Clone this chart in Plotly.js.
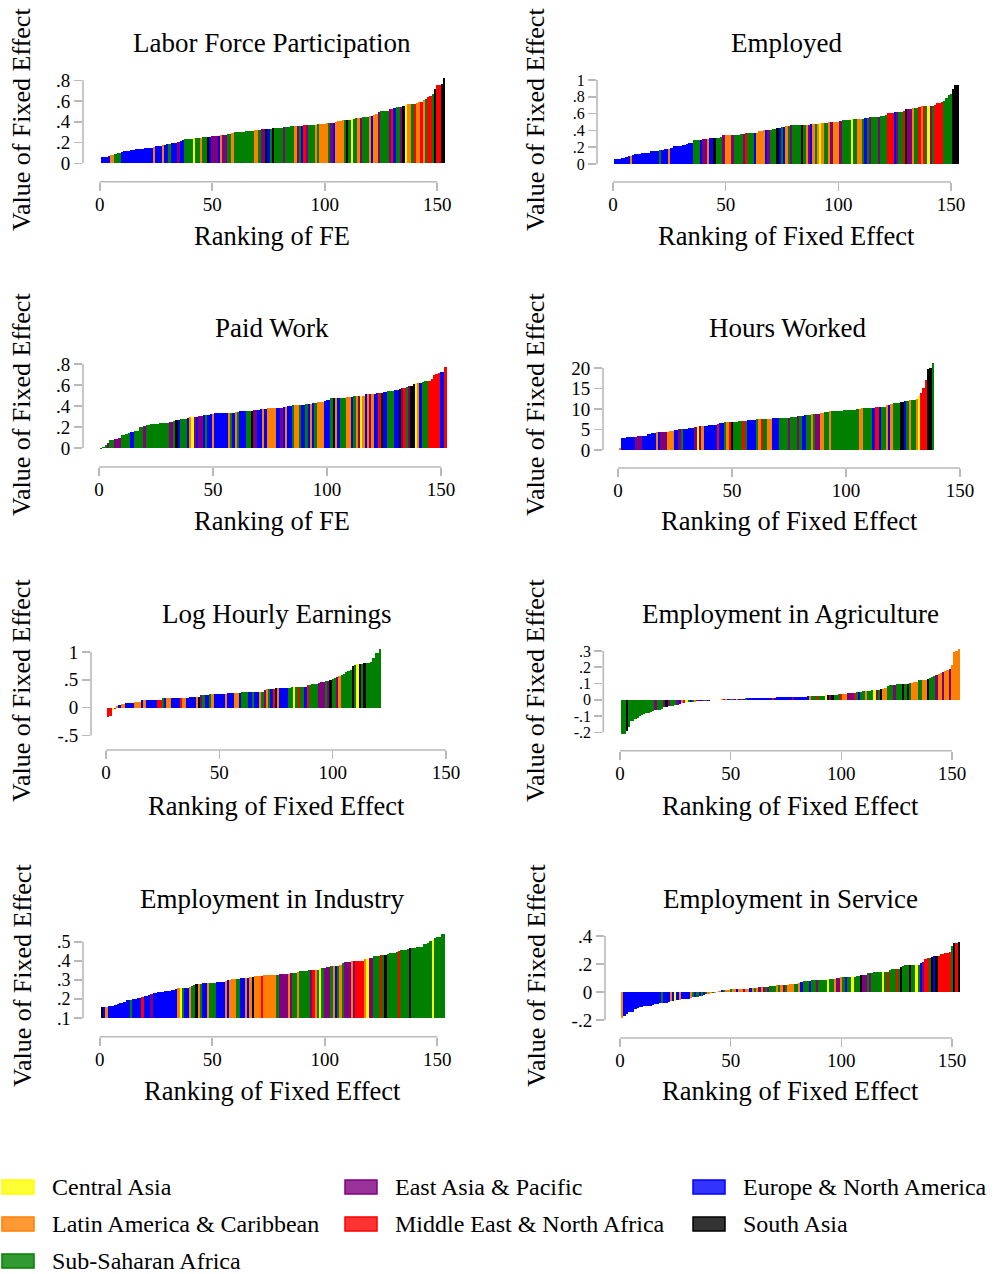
<!DOCTYPE html>
<html><head><meta charset="utf-8">
<script src="https://cdn.plot.ly/plotly-3.0.1.min.js"></script>
<style>html,body{margin:0;padding:0;background:#fff}#chart{width:995px;height:1274px}</style>
</head><body><div id="chart"></div>
<script>
// ---------------- regions ----------------
const regionCodes  = ["C","E","U","L","M","S","A"];
const regionNames  = ["Central Asia","East Asia & Pacific","Europe & North America","Latin America & Caribbean","Middle East & North Africa","South Asia","Sub-Saharan Africa"];
const regionColors = ["#ffff00","#800080","#0000ff","#ff8000","#ff0000","#000000","#008000"];

// ---------------- tick labels ----------------
const xTickVals = [0,50,100,150];
const xTickText = ["0","50","100","150"];
const lfpTickVals = [0,.2,.4,.6,.8];        const lfpTickText = ["0",".2",".4",".6",".8"];
const empTickVals = [0,.2,.4,.6,.8,1];      const empTickText = ["0",".2",".4",".6",".8","1"];
const paidTickVals = [0,.2,.4,.6,.8];       const paidTickText = ["0",".2",".4",".6",".8"];
const hoursTickVals = [0,5,10,15,20];       const hoursTickText = ["0","5","10","15","20"];
const logTickVals = [-.5,0,.5,1];           const logTickText = ["-.5","0",".5","1"];
const agrTickVals = [-.2,-.1,0,.1,.2,.3];   const agrTickText = ["-.2","-.1","0",".1",".2",".3"];
const indTickVals = [.1,.2,.3,.4,.5];       const indTickText = [".1",".2",".3",".4",".5"];
const svcTickVals = [-.2,0,.2,.4];          const svcTickText = ["-.2","0",".2",".4"];

// ---------------- Labor Force Participation ----------------
const lfpRegion = [
"U","U","U","U","L","L","A","A","A","U",
"U","U","U","U","U","U","U","U","U","U",
"U","U","U","L","U","U","U","L","U","U",
"A","U","U","U","E","U","U","A","A","A",
"A","C","A","A","L","A","A","S","U","E",
"E","E","U","L","E","E","A","A","L","A",
"A","A","A","A","A","A","A","A","L","L",
"A","E","E","S","U","A","S","A","A","A",
"A","E","A","A","A","A","L","E","A","U",
"M","E","A","A","A","L","A","L","L","L",
"L","A","E","U","L","L","L","L","A","S",
"A","C","A","A","L","E","A","A","A","L",
"U","L","L","E","A","A","A","A","E","M",
"U","A","A","E","S","C","L","L","A","M",
"L","L","M","L","A","M","M","A","S","M",
"M","S","S"];
const lfpValue = [
.06,.06,.065,.07,.08,.08,.09,.095,.10,.11,
.115,.12,.12,.125,.13,.135,.14,.14,.14,.145,
.15,.15,.15,.16,.165,.17,.17,.18,.18,.185,
.19,.195,.2,.2,.21,.215,.22,.23,.23,.235,
.235,.24,.24,.24,.245,.25,.25,.255,.255,.26,
.26,.26,.265,.27,.27,.275,.28,.28,.29,.30,
.30,.30,.305,.305,.31,.31,.315,.315,.32,.32,
.32,.33,.33,.33,.33,.335,.34,.34,.34,.345,
.345,.35,.35,.35,.355,.355,.355,.36,.36,.36,
.365,.365,.37,.37,.37,.37,.375,.38,.38,.38,
.385,.385,.39,.39,.40,.41,.41,.415,.42,.42,
.42,.425,.43,.435,.435,.44,.45,.45,.45,.455,
.46,.47,.48,.49,.5,.5,.5,.5,.52,.525,
.53,.54,.54,.54,.55,.56,.57,.57,.57,.575,
.58,.59,.59,.61,.62,.64,.65,.67,.72,.75,
.75,.76,.82];

// ---------------- Employed ----------------
const empRegion = [
"U","U","U","U","U","U","U","L","U","U",
"U","U","U","U","U","U","U","U","U","U",
"A","U","U","U","L","U","U","U","U","U",
"U","U","U","U","U","A","A","A","U","E",
"E","L","U","U","S","A","A","A","E","L",
"L","L","E","A","A","A","A","E","M","A",
"A","A","U","L","L","L","L","U","E","A",
"A","A","S","U","A","U","L","A","E","A",
"A","A","A","S","A","L","E","U","L","A",
"L","C","L","A","A","L","E","L","L","L",
"E","A","A","A","A","C","A","A","L","L",
"A","U","A","E","A","A","A","E","A","A",
"A","M","M","M","U","E","A","A","M","S",
"E","E","L","A","A","M","L","M","A","C",
"E","A","M","M","M","M","A","A","A","A",
"S","S","S"];
const empValue = [
.055,.055,.065,.07,.072,.085,.09,.10,.11,.115,
.115,.12,.13,.13,.13,.13,.15,.155,.155,.155,
.165,.17,.175,.175,.18,.19,.21,.21,.215,.215,
.225,.23,.24,.245,.25,.285,.285,.285,.29,.295,
.3,.3,.305,.305,.315,.315,.315,.32,.345,.345,
.345,.345,.35,.35,.35,.35,.355,.36,.365,.37,
.37,.37,.375,.375,.39,.39,.40,.405,.405,.41,
.42,.42,.43,.43,.435,.445,.45,.455,.465,.465,
.465,.465,.465,.465,.465,.47,.47,.475,.475,.475,
.48,.485,.485,.49,.49,.5,.5,.505,.505,.505,
.51,.52,.52,.52,.52,.53,.535,.535,.535,.535,
.535,.545,.55,.56,.56,.56,.56,.565,.57,.57,
.585,.61,.61,.61,.62,.62,.625,.625,.63,.655,
.66,.66,.665,.665,.67,.68,.69,.69,.69,.69,
.69,.69,.7,.725,.725,.74,.75,.78,.82,.835,
.89,.94,.94];

// ---------------- Paid Work ----------------
const paidRegion = [
"A","A","A","E","A","A","E","E","E","A",
"A","A","A","U","U","A","A","A","A","E",
"A","A","A","A","A","A","A","A","A","A",
"E","E","A","S","U","A","A","A","U","L",
"C","E","U","E","E","U","A","U","U","L",
"U","U","U","U","U","U","L","A","U","L",
"A","U","U","U","A","A","S","E","E","U",
"U","L","U","L","L","L","L","U","U","E",
"U","L","U","U","A","L","L","A","U","U",
"A","U","L","U","A","L","L","L","U","U",
"U","A","S","L","U","A","A","A","L","L",
"U","A","L","E","C","L","U","L","E","L",
"U","U","M","S","U","U","A","A","A","U",
"U","S","E","M","A","E","S","S","C","L",
"U","A","A","A","M","M","M","M","M","U",
"U","M"];
const paidValue = [
-.008,.01,.03,.045,.08,.08,.09,.09,.1,.12,
.125,.135,.14,.15,.15,.16,.16,.2,.2,.21,
.215,.215,.23,.23,.23,.23,.24,.24,.24,.24,
.245,.245,.255,.265,.265,.275,.275,.275,.285,.295,
.295,.295,.3,.305,.305,.31,.315,.315,.32,.32,
.33,.333,.333,.333,.333,.333,.333,.333,.333,.34,
.345,.35,.352,.352,.352,.352,.352,.362,.362,.365,
.37,.37,.37,.38,.38,.38,.38,.38,.38,.385,
.39,.39,.4,.4,.41,.41,.41,.41,.41,.41,
.42,.42,.42,.425,.425,.44,.44,.44,.445,.455,
.46,.475,.475,.475,.475,.475,.475,.475,.485,.485,
.485,.495,.495,.495,.495,.5,.51,.515,.515,.515,
.515,.525,.525,.525,.535,.535,.545,.545,.545,.55,
.555,.56,.57,.57,.58,.59,.59,.61,.615,.62,
.62,.625,.64,.64,.64,.657,.695,.705,.715,.727,
.727,.77];

// ---------------- Hours Worked ----------------
const hoursRegion = [
"L","U","U","U","U","U","U","E","E","E",
"U","U","U","U","U","U","L","U","E","E",
"E","L","L","L","U","U","E","A","U","U",
"U","U","U","E","C","E","L","U","U","U",
"U","U","U","M","U","U","A","L","M","S",
"A","A","A","A","M","A","U","U","U","U",
"A","L","M","A","A","L","L","U","U","U",
"A","A","A","A","E","A","A","A","E","A",
"U","U","A","A","L","A","E","E","L","L",
"A","A","L","A","A","A","A","A","A","A",
"A","A","A","A","A","L","L","A","A","A",
"A","U","M","M","U","A","A","L","U","L",
"A","A","A","S","S","U","A","L","A","A",
"L","C","M","M","M","S","S","A"];
const hoursValue = [
.4,2.9,2.9,3.1,3.2,3.2,3.2,3.2,3.4,3.4,
3.4,3.4,3.8,4.0,4.1,4.1,4.3,4.4,4.4,4.4,
4.4,4.4,4.6,4.6,4.9,4.9,5.1,5.1,5.1,5.1,
5.4,5.4,5.4,5.6,5.9,5.9,5.9,5.9,5.9,6.1,
6.1,6.1,6.1,6.3,6.6,6.6,6.8,6.8,6.8,6.8,
6.8,6.8,7.1,7.1,7.1,7.1,7.3,7.3,7.3,7.3,
7.6,7.6,7.6,7.6,7.6,7.6,7.6,7.8,7.8,7.8,
7.8,7.8,7.8,7.8,7.8,8.05,8.05,8.05,8.3,8.3,
8.3,8.5,8.5,8.5,8.8,8.8,8.8,8.8,9.0,9.0,
9.3,9.3,9.5,9.5,9.5,9.5,9.5,9.5,9.75,9.75,
9.75,9.75,9.75,9.75,10,10,10.2,10.2,10.2,10.2,
10.2,10.2,10.5,10.5,10.5,10.5,10.5,11,11,11.2,
11.5,11.5,11.5,11.7,11.7,11.95,11.95,12.2,12.2,12.2,
12.4,13.1,13.9,15.1,17.1,19.8,20,21.2];

// ---------------- Log Hourly Earnings ----------------
const logRegion = [
"M","M","C","M","L","U","L","L","U","U",
"U","U","L","L","L","U","L","U","U","U",
"U","U","M","M","A","U","L","L","U","U",
"U","U","M","L","L","U","U","U","U","L",
"S","E","A","U","U","A","L","U","U","U",
"U","U","L","U","U","U","L","L","U","A",
"A","A","U","U","A","U","U","L","A","E",
"L","A","U","M","S","L","U","U","U","U",
"A","A","C","A","M","A","A","U","M","A",
"A","A","A","E","E","E","A","E","S","A",
"A","E","L","A","A","A","A","A","S","A",
"C","S","A","S","A","A","A","A","A","A",
"A"];
const logValue = [
-.16,-.15,-.04,-.02,.03,.055,.07,.07,.09,.09,
.09,.09,.10,.11,.11,.13,.13,.13,.145,.145,
.145,.145,.145,.145,.165,.165,.165,.165,.165,.165,
.165,.18,.18,.18,.18,.18,.2,.2,.2,.2,
.2,.22,.22,.22,.22,.24,.24,.24,.24,.24,
.24,.24,.24,.255,.255,.255,.255,.255,.255,.275,
.275,.275,.275,.275,.29,.29,.29,.29,.29,.31,
.33,.33,.33,.33,.345,.345,.345,.345,.345,.345,
.345,.365,.365,.38,.38,.38,.38,.38,.4,.4,
.42,.42,.42,.44,.455,.455,.475,.475,.49,.51,
.53,.545,.565,.58,.61,.635,.655,.675,.75,.77,
.78,.785,.785,.8,.8,.8,.82,.895,.985,.985,
1.06];

// ---------------- Employment in Agriculture ----------------
const agrRegion = [
"A","A","S","A","A","A","A","A","A","A",
"A","A","A","A","A","E","A","A","A","E",
"S","E","A","A","A","E","U","L","M","C",
"A","U","A","L","E","U","U","M","A","U",
"A","U","U","U","U","L","M","L","U","A",
"M","U","L","U","M","U","A","U","U","U",
"U","U","U","U","U","U","U","U","M","U",
"U","U","U","U","U","U","U","E","U","U",
"U","U","U","U","U","L","A","A","M","A",
"A","A","C","S","E","S","A","A","A","M",
"L","L","E","E","E","M","A","U","A","A",
"L","A","A","A","C","E","A","S","L","L",
"A","A","A","E","A","A","A","S","A","S",
"A","L","L","L","A","A","L","L","S","A",
"A","A","E","L","L","E","L","L","E","L",
"L","L","L"];
const agrValue = [
-.21,-.21,-.19,-.167,-.13,-.128,-.12,-.115,-.1,-.095,
-.088,-.083,-.08,-.075,-.07,-.065,-.062,-.06,-.058,-.045,
-.044,-.04,-.038,-.036,-.034,-.03,-.026,-.02,-.018,-.016,
-.015,-.014,-.012,-.011,-.01,-.009,-.008,-.007,-.006,-.006,
-.004,-.003,-.002,-.001,0,.002,.003,.004,.004,.005,
.005,.006,.006,.007,.007,.007,.008,.008,.008,.009,
.009,.01,.01,.01,.011,.012,.012,.013,.014,.014,
.015,.015,.016,.016,.017,.017,.017,.018,.018,.019,
.019,.02,.02,.02,.021,.021,.022,.022,.024,.025,
.026,.026,.027,.03,.03,.03,.031,.032,.033,.033,
.035,.037,.039,.041,.042,.043,.047,.048,.049,.051,
.052,.055,.057,.061,.061,.061,.062,.067,.068,.07,
.082,.088,.088,.088,.095,.1,.1,.1,.1,.1,
.102,.106,.112,.112,.122,.122,.122,.124,.126,.135,
.139,.145,.151,.159,.165,.171,.178,.184,.19,.214,
.294,.3,.312];

// ---------------- Employment in Industry ----------------
const indRegion = [
"S","U","L","U","U","U","U","U","U","U",
"U","U","U","A","U","U","U","U","M","U",
"U","U","E","U","U","U","U","U","U","U",
"U","U","U","U","L","C","A","U","U","L",
"A","A","S","L","A","U","U","L","A","A",
"A","U","U","U","U","L","U","L","L","L",
"A","A","U","U","L","U","L","S","L","L",
"L","M","L","L","L","L","L","L","A","E",
"E","E","E","L","E","A","A","L","A","A",
"A","A","A","E","M","L","A","C","A","E",
"E","E","A","L","U","A","L","A","E","E",
"E","L","E","M","M","M","M","L","C","E",
"E","A","A","A","M","A","S","A","A","A",
"A","A","M","A","A","A","A","S","A","A",
"A","A","A","A","A","A","A","C","A","A",
"A","A","A"];
const indValue = [
.159,.159,.159,.162,.164,.164,.172,.174,.18,.182,
.185,.195,.196,.196,.2,.2,.205,.206,.211,.215,
.217,.222,.228,.23,.234,.236,.237,.238,.24,.241,
.245,.246,.25,.252,.257,.257,.257,.257,.257,.262,
.27,.272,.279,.279,.279,.284,.284,.284,.284,.284,
.284,.29,.29,.29,.29,.295,.3,.3,.305,.305,
.305,.305,.31,.31,.31,.31,.314,.317,.323,.323,
.323,.323,.328,.328,.328,.328,.328,.328,.328,.333,
.333,.333,.333,.333,.337,.338,.338,.342,.347,.347,
.347,.347,.352,.352,.352,.352,.352,.357,.363,.363,
.368,.368,.373,.373,.373,.373,.378,.389,.394,.394,
.394,.4,.4,.4,.4,.4,.4,.41,.411,.415,
.415,.425,.425,.425,.43,.43,.43,.436,.44,.44,
.44,.446,.451,.456,.456,.458,.462,.467,.467,.467,
.472,.472,.472,.488,.488,.493,.503,.509,.519,.524,
.524,.54,.54];

// ---------------- Employment in Service ----------------
const svcRegion = [
"L","U","U","U","U","U","U","U","U","U",
"U","U","U","U","U","U","U","U","A","U",
"U","U","L","U","C","U","L","U","U","U",
"U","L","A","U","A","U","A","U","A","L",
"L","A","L","A","L","U","A","L","L","A",
"L","L","U","L","L","E","L","L","U","L",
"A","L","E","L","E","A","E","A","A","A",
"L","A","L","E","A","L","L","L","A","A",
"L","U","A","A","A","U","A","A","E","A",
"A","A","A","C","A","A","L","E","E","L",
"A","U","A","A","C","A","A","A","S","E",
"E","A","E","A","A","A","A","A","C","A",
"M","A","A","A","M","A","S","A","A","A",
"S","A","A","C","A","U","E","M","M","A",
"S","U","S","M","M","M","M","M","M","A",
"S","M","S"];
const svcValue = [
-.186,-.17,-.155,-.145,-.143,-.14,-.124,-.112,-.105,-.105,
-.1,-.1,-.1,-.1,-.095,-.086,-.086,-.081,-.081,-.081,
-.081,-.071,-.067,-.067,-.067,-.06,-.06,-.052,-.052,-.048,
-.048,-.043,-.038,-.036,-.034,-.029,-.029,-.019,-.014,-.012,
-.007,-.007,-.005,-.001,.007,.012,.012,.012,.012,.018,
.024,.024,.024,.024,.024,.024,.024,.024,.031,.031,
.031,.031,.038,.038,.038,.038,.038,.045,.045,.045,
.052,.052,.052,.052,.052,.052,.06,.06,.06,.06,
.067,.071,.076,.076,.076,.076,.083,.083,.083,.083,
.083,.083,.083,.09,.09,.09,.09,.098,.098,.105,
.105,.105,.105,.105,.105,.11,.112,.112,.119,.119,
.119,.133,.133,.133,.14,.14,.14,.14,.14,.14,
.14,.155,.161,.161,.161,.161,.176,.183,.19,.19,
.19,.196,.196,.196,.196,.21,.217,.233,.24,.245,
.252,.26,.26,.26,.274,.274,.281,.281,.288,.33,
.352,.352,.357];

// ---------------- panel setup (layout in pixels) ----------------
const YTITLE = "Value of Fixed Effect";
const PANELS = [
 {vals:lfpValue, regs:lfpRegion, title:"Labor Force Participation", xtitle:"Ranking of FE", tv:lfpTickVals, tt:lfpTickText, base:0, yfs:19,
  yLine:83, x0:99.7, x150:437.3, loV:0, loPx:163.3, hiV:.8, hiPx:80.3, axisY:181.7, topV:.86, tX:272, tY:43, xtX:272, xtY:236, ytX:22, ytY:120},
 {vals:empValue, regs:empRegion, title:"Employed", xtitle:"Ranking of Fixed Effect", tv:empTickVals, tt:empTickText, base:0, yfs:16,
  yLine:597, x0:613, x150:951, loV:0, loPx:164, hiV:1, hiPx:80, axisY:182, topV:1.02, tX:786, tY:43, xtX:786, xtY:236, ytX:536, ytY:120},
 {vals:paidValue, regs:paidRegion, title:"Paid Work", xtitle:"Ranking of FE", tv:paidTickVals, tt:paidTickText, base:0, yfs:19,
  yLine:83, x0:99, x150:441, loV:0, loPx:448, hiV:.8, hiPx:364, axisY:467, topV:.82, tX:272, tY:328, xtX:272, xtY:521, ytX:22, ytY:405},
 {vals:hoursValue, regs:hoursRegion, title:"Hours Worked", xtitle:"Ranking of Fixed Effect", tv:hoursTickVals, tt:hoursTickText, base:0, yfs:19,
  yLine:603, x0:618, x150:960, loV:0, loPx:450, hiV:20, hiPx:368, axisY:468, topV:22, tX:788, tY:328, xtX:789, xtY:521, ytX:536, ytY:405},
 {vals:logValue, regs:logRegion, title:"Log Hourly Earnings", xtitle:"Ranking of Fixed Effect", tv:logTickVals, tt:logTickText, base:0, yfs:19,
  yLine:91, x0:106, x150:446, loV:-.5, loPx:735.5, hiV:1, hiPx:652, axisY:750, topV:1.1, tX:276, tY:614, xtX:276, xtY:806, ytX:22, ytY:691},
 {vals:agrValue, regs:agrRegion, title:"Employment in Agriculture", xtitle:"Ranking of Fixed Effect", tv:agrTickVals, tt:agrTickText, base:0, yfs:16,
  yLine:603.3, x0:620, x150:952, loV:-.2, loPx:732.3, hiV:.3, hiPx:651, axisY:750.7, topV:.33, tX:790, tY:614, xtX:790, xtY:806, ytX:536, ytY:691},
 {vals:indValue, regs:indRegion, title:"Employment in Industry", xtitle:"Ranking of Fixed Effect", tv:indTickVals, tt:indTickText, base:.1, yfs:18,
  yLine:83, x0:99.7, x150:437.3, loV:.1, loPx:1018.3, hiV:.5, hiPx:941.7, axisY:1036.7, topV:.56, tX:272, tY:899, xtX:272, xtY:1091, ytX:22, ytY:976},
 {vals:svcValue, regs:svcRegion, title:"Employment in Service", xtitle:"Ranking of Fixed Effect", tv:svcTickVals, tt:svcTickText, base:0, yfs:19,
  yLine:605, x0:620, x150:952, loV:-.2, loPx:1020, hiV:.4, hiPx:936, axisY:1038, topV:.42, tX:790, tY:899, xtX:790, xtY:1091, ytX:536, ytY:976}
];

const W = 995, H = 1274;
const FONT = "Liberation Serif, Times New Roman, serif";
const AXC = "#b9b9b9";
const px2x = px => px / W;
const px2y = py => 1 - py / H;

const data = [];
const layout = {
  width: W, height: H, margin: {l:0, r:0, t:0, b:0},
  paper_bgcolor: "#ffffff", plot_bgcolor: "rgba(0,0,0,0)",
  showlegend: false, barmode: "overlay", bargap: 0,
  font: {family: FONT, color: "#000", size: 19},
  shapes: [], annotations: []
};

PANELS.forEach((p, k) => {
  const n = k + 1;
  const xa = n === 1 ? "x" : "x" + n;
  const ya = n === 1 ? "y" : "y" + n;
  const sx = (p.x150 - p.x0) / 150;
  const xmin = -(p.x0 - p.yLine) / sx, xmax = 156;
  const sy = (p.loPx - p.hiPx) / (p.hiV - p.loV);
  const ymin = p.loV + (p.loPx - p.axisY) / sy;
  const topPx = p.loPx - (p.topV - p.loV) * sy;

  layout["xaxis" + (n === 1 ? "" : n)] = {
    domain: [px2x(p.yLine), px2x(p.x0 + xmax * sx)], range: [xmin, xmax], anchor: ya,
    tickmode: "array", tickvals: xTickVals, ticktext: xTickText,
    ticks: "outside", ticklen: 8, tickwidth: 1.6, tickcolor: AXC, ticklabelstandoff: -3,
    showline: false, showgrid: false, zeroline: false, fixedrange: true,
    tickfont: {family: FONT, size: 19, color: "#000"}
  };
  layout["yaxis" + (n === 1 ? "" : n)] = {
    domain: [px2y(p.axisY), px2y(topPx)], range: [ymin, p.topV], anchor: xa,
    tickmode: "array", tickvals: p.tv, ticktext: p.tt,
    ticks: "outside", ticklen: 8, tickwidth: 1.6, tickcolor: AXC,
    showline: false, showgrid: false, zeroline: false, fixedrange: true,
    tickfont: {family: FONT, size: p.yfs, color: "#000"}
  };

  regionCodes.forEach((code, r) => {
    const xs = [], ys = [];
    p.regs.forEach((c, i) => { if (c === code) { xs.push(i + 1); ys.push(p.vals[i] - p.base); } });
    if (xs.length) data.push({
      type: "bar", x: xs, y: ys, base: p.base, width: 1, xaxis: xa, yaxis: ya,
      name: regionNames[r], marker: {color: regionColors[r], line: {width: 0}},
      hoverinfo: "skip", showlegend: false
    });
  });

  // axis lines spanning the tick range only
  layout.shapes.push({type: "line", xref: xa + " domain", x0: 0, x1: 0, yref: ya,
    y0: p.tv[0], y1: p.tv[p.tv.length - 1], line: {color: AXC, width: 1.6}});
  layout.shapes.push({type: "line", xref: xa, x0: xTickVals[0], x1: xTickVals[xTickVals.length - 1],
    yref: ya + " domain", y0: 0, y1: 0, line: {color: AXC, width: 1.6}});

  layout.annotations.push({text: p.title, xref: "paper", yref: "paper", x: px2x(p.tX), y: px2y(p.tY),
    xanchor: "center", yanchor: "middle", showarrow: false, font: {family: FONT, size: 27, color: "#000"}});
  layout.annotations.push({text: p.xtitle, xref: "paper", yref: "paper", x: px2x(p.xtX), y: px2y(p.xtY),
    xanchor: "center", yanchor: "middle", showarrow: false, font: {family: FONT, size: 26.5, color: "#000"}});
  layout.annotations.push({text: YTITLE, xref: "paper", yref: "paper", x: px2x(p.ytX), y: px2y(p.ytY),
    xanchor: "center", yanchor: "middle", textangle: -90, showarrow: false, font: {family: FONT, size: 26, color: "#000"}});
});

// ---------------- legend (3 columns, row-major) ----------------
const legendColPx = [2, 345, 693];
const legendRowPx = [1187, 1224, 1261];
function rgba(hex, a) {
  const v = parseInt(hex.slice(1), 16);
  return "rgba(" + ((v >> 16) & 255) + "," + ((v >> 8) & 255) + "," + (v & 255) + "," + a + ")";
}
regionNames.forEach((name, r) => {
  const cx = legendColPx[r % 3], cy = legendRowPx[Math.floor(r / 3)];
  layout.shapes.push({type: "rect", xref: "paper", yref: "paper",
    x0: px2x(cx), x1: px2x(cx + 32), y0: px2y(cy + 7), y1: px2y(cy - 7),
    fillcolor: rgba(regionColors[r], 0.8), line: {color: regionColors[r], width: 1.5}});
  layout.annotations.push({text: name, xref: "paper", yref: "paper", x: px2x(cx + 48), y: px2y(cy),
    xanchor: "left", yanchor: "middle", showarrow: false,
    font: {family: FONT, size: 24, color: "#000"}});
});

Plotly.newPlot("chart", data, layout, {staticPlot: true, displayModeBar: false});
</script>
</body></html>
